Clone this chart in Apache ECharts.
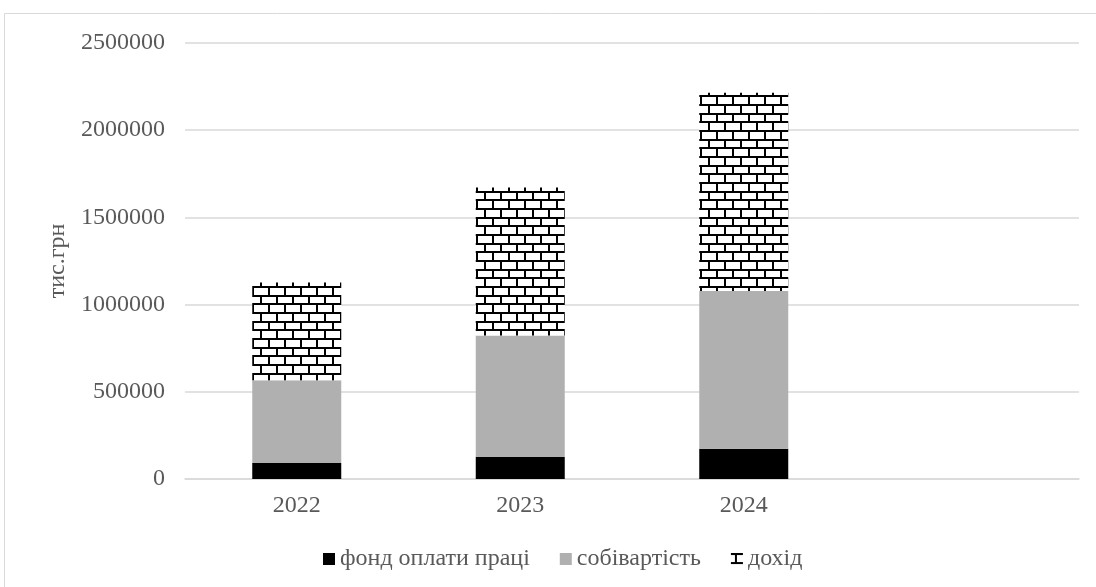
<!DOCTYPE html>
<html>
<head>
<meta charset="utf-8">
<script src="https://cdn.jsdelivr.net/npm/echarts@6/dist/echarts.min.js"></script>
<style>
  html, body { margin: 0; padding: 0; background: #ffffff; }
  #chart { width: 1096px; height: 587px; }
</style>
</head>
<body>
<div id="chart"></div>
<script>
// Years on the category axis (the last slot stays empty)
const categories = ['2022', '2023', '2024', ''];
// Stacked components, тис.грн
const fondOplaty = [92000, 126000, 174000, null];
const sobivartist = [474000, 697000, 904000, null];
const dokhid = [561000, 848000, 1137000, null];
// Value axis ticks
const yMax = 2500000;
const yStep = 500000;

// Brick fill for the "дохід" segment
function brickPattern() {
  const c = document.createElement('canvas');
  const w = 16, h = 52;
  c.width = w; c.height = h;
  const g = c.getContext('2d');
  g.fillStyle = '#ffffff';
  g.fillRect(0, 0, w, h);
  g.fillStyle = '#000000';
  const rows = [0, 9, 17, 26, 35, 43, 52];
  for (let i = 0; i < 6; i++) {
    const y0 = rows[i], y1 = rows[i + 1];
    g.fillRect(0, y0, w, 2);
    const vx = (i % 2 === 0) ? 4 : 12;
    g.fillRect(vx, y0, 2, y1 - y0);
  }
  return c;
}
const brick = { image: brickPattern(), repeat: 'repeat' };

const font = 'Liberation Serif';
const textColor = '#595959';
const chart = echarts.init(document.getElementById('chart'), null, { renderer: 'canvas' });
chart.setOption({
  animation: false,
  backgroundColor: '#ffffff',
  graphic: [{
    type: 'rect',
    shape: { x: 4.5, y: 13.5, width: 1300, height: 800 },
    style: { fill: 'none', stroke: '#d9d9d9', lineWidth: 1 },
    silent: true
  }],
  grid: { left: 185, right: 17, top: 43, bottom: 108, containLabel: false },
  legend: {
    bottom: 11,
    left: 318,
    itemWidth: 12,
    itemHeight: 12,
    itemGap: 30,
    textStyle: { fontFamily: font, fontSize: 24, color: textColor },
    data: [
      { name: 'фонд оплати праці', icon: 'rect' },
      { name: 'собівартість', icon: 'rect' },
      { name: 'дохід', icon: 'rect' }
    ]
  },
  xAxis: {
    type: 'category',
    data: categories,
    axisLine: { lineStyle: { color: '#d9d9d9', width: 1.5 } },
    axisTick: { show: false },
    axisLabel: { fontFamily: font, fontSize: 24, color: textColor, margin: 15 }
  },
  yAxis: {
    type: 'value',
    min: 0,
    max: yMax,
    interval: yStep,
    name: 'тис.грн',
    nameLocation: 'middle',
    nameGap: 109,
    nameTextStyle: { fontFamily: font, fontSize: 24, color: textColor },
    axisLine: { show: false },
    axisTick: { show: false },
    axisLabel: {
      fontFamily: font, fontSize: 24, color: textColor, margin: 20,
      formatter: (v) => String(v)
    },
    splitLine: { lineStyle: { color: '#d9d9d9', width: 1.5 } }
  },
  series: [
    {
      name: 'фонд оплати праці', type: 'bar', stack: 'total', barWidth: 89,
      itemStyle: { color: '#000000' }, data: fondOplaty
    },
    {
      name: 'собівартість', type: 'bar', stack: 'total', barWidth: 89,
      itemStyle: { color: '#b0b0b0' }, data: sobivartist
    },
    {
      name: 'дохід', type: 'bar', stack: 'total', barWidth: 89,
      itemStyle: { color: brick }, data: dokhid
    }
  ]
});
</script>
</body>
</html>
